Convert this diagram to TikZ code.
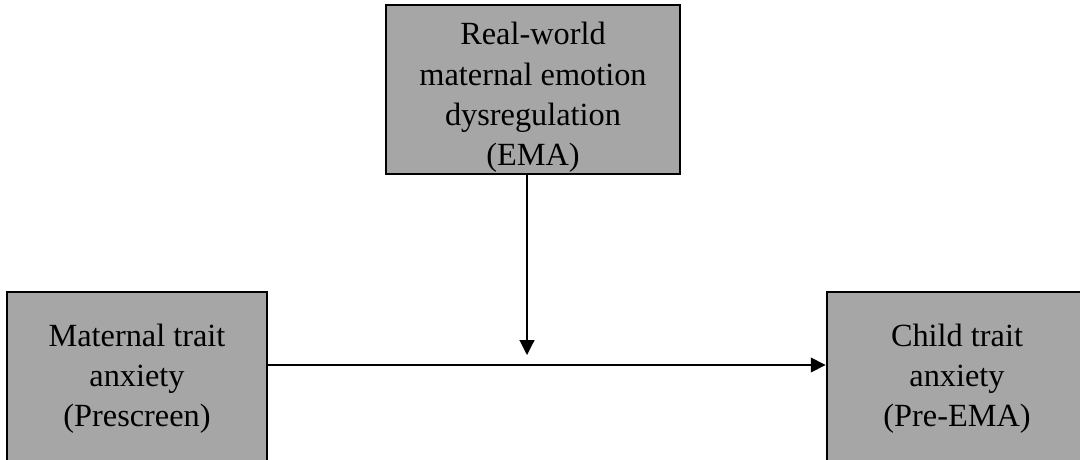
\documentclass[tikz,border=0pt]{standalone}
\usepackage{fontspec}
\setmainfont{Liberation Serif}
\usetikzlibrary{arrows.meta}

\definecolor{boxgray}{RGB}{166,166,166}
\tikzset{
  varbox/.style={draw=black, fill=boxgray, line width=2pt, align=center,
    inner sep=0pt, font=\fontsize{23}{28.5}\selectfont},
  conn/.style={line width=0.8pt, -{Triangle[length=0.37cm,width=0.37cm]}}
}

\begin{document}
\begin{tikzpicture}
            \clip (0,0) rectangle (27,11.475);
            \node [varbox, minimum width=7.35cm, minimum height=4.225cm] (ema) at (13.325,9.2375)
                {\rule{0pt}{0.95cm}Real-world\\maternal emotion\\dysregulation\\(EMA)};
            \node [varbox, minimum width=6.5cm, minimum height=4.35cm] (prescreen) at (3.425,2.0)
                {Maternal trait\\anxiety\\(Prescreen)};
            \node [varbox, minimum width=6.5cm, minimum height=4.35cm] (preema) at (23.925,2.0)
                {Child trait\\anxiety\\(Pre-EMA)};
            \coordinate (join) at (13.175,2.35);
            \draw [conn] (prescreen.east |- join) -- (preema.west |- join);
            \draw [conn] (ema.south -| join) -- ([yshift=0.25cm]join);
        \end{tikzpicture}
\end{document}
